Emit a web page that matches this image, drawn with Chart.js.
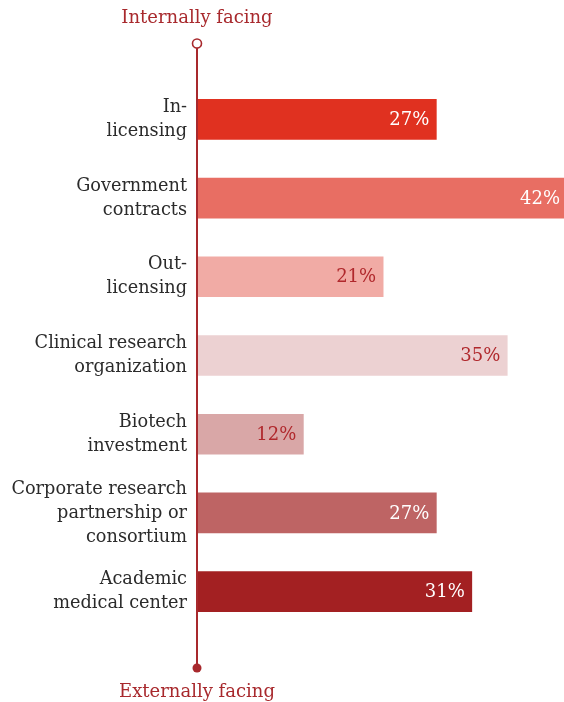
<!DOCTYPE html>
<html>
<head>
<meta charset="utf-8">
<script src="https://cdn.jsdelivr.net/npm/chart.js@4"></script>
<style>
  html, body { margin: 0; padding: 0; background: #fff; }
  #wrap { width: 564px; height: 702px; position: relative; }
</style>
</head>
<body>
<div id="wrap"><canvas id="chart"></canvas></div>
<script>
// categories and values
const categories = [
  ["In-", "licensing"],
  ["Government", "contracts"],
  ["Out-", "licensing"],
  ["Clinical research", "organization"],
  ["Biotech", "investment"],
  ["Corporate research", "partnership or", "consortium"],
  ["Academic", "medical center"]
];
const shares = [27, 42, 21, 35, 12, 27, 31];
const barColors = ["#E03120", "#E86E63", "#F1ABA5", "#ECD1D2", "#D9A7A7", "#BE6464", "#A32022"];
const labelColors = ["#fff", "#fff", "#B0282C", "#B0282C", "#B0282C", "#fff", "#fff"];
const topLabel = "Internally facing";
const bottomLabel = "Externally facing";

const RED = "#A8292D";
const FONT = "'DejaVu Serif', serif";

// value labels inside bar ends
const valueLabels = {
  id: "valueLabels",
  afterDatasetsDraw(chart) {
    const { ctx, chartArea } = chart;
    const meta = chart.getDatasetMeta(0);
    ctx.save();
    ctx.font = "18px " + FONT;
    ctx.textAlign = "right";
    ctx.textBaseline = "middle";
    meta.data.forEach((bar, i) => {
      ctx.fillStyle = labelColors[i];
      const x = Math.min(bar.x, chartArea.right + 3) - 7;
      ctx.fillText(shares[i] + "%", x, bar.y + 1);
    });
    ctx.restore();
  }
};

// the vertical spine with its end markers and captions
const spine = {
  id: "spine",
  afterDraw(chart) {
    const { ctx, chartArea } = chart;
    const x = chartArea.left;
    ctx.save();
    ctx.strokeStyle = RED;
    ctx.lineWidth = 2;
    ctx.beginPath();
    ctx.moveTo(x, 48);
    ctx.lineTo(x, 666);
    ctx.stroke();
    ctx.fillStyle = "#fff";
    ctx.lineWidth = 1.6;
    ctx.beginPath();
    ctx.arc(x, 43.5, 4.5, 0, Math.PI * 2);
    ctx.fill();
    ctx.stroke();
    ctx.fillStyle = RED;
    ctx.beginPath();
    ctx.arc(x, 668, 4.5, 0, Math.PI * 2);
    ctx.fill();
    ctx.font = "18px " + FONT;
    ctx.textAlign = "center";
    ctx.textBaseline = "middle";
    ctx.fillText(topLabel, x, 18);
    ctx.fillText(bottomLabel, x, 692);
    ctx.restore();
  }
};

new Chart(document.getElementById("chart"), {
  type: "bar",
  data: {
    labels: categories,
    datasets: [{
      data: shares,
      backgroundColor: barColors,
      barThickness: 40,
      borderWidth: 0
    }]
  },
  options: {
    indexAxis: "y",
    responsive: true,
    maintainAspectRatio: false,
    animation: false,
    layout: { padding: { top: 80, bottom: 71, left: 0, right: 0 } },
    plugins: { legend: { display: false }, tooltip: { enabled: false } },
    scales: {
      x: { display: false, min: 0, max: 41.4 },
      y: {
        grid: { display: false, drawTicks: false },
        border: { display: false },
        ticks: {
          padding: 10,
          color: "#2b2b2b",
          font: { family: FONT, size: 17.7, lineHeight: 24 / 17.7 }
        },
        afterFit(scale) { scale.width = 197; }
      }
    }
  },
  plugins: [valueLabels, spine]
});
</script>
</body>
</html>
